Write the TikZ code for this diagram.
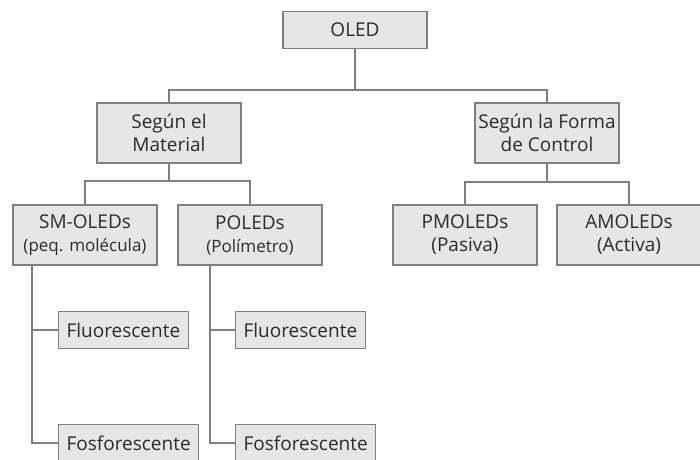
\documentclass[tikz,border=0pt]{standalone}
\usepackage{fontspec}
\setmainfont{Open Sans}
\definecolor{boxfill}{HTML}{E6E6E6}
\definecolor{boxline}{HTML}{7F7F7F}
\definecolor{txt}{HTML}{2B2B2B}
\begin{document}
\begin{tikzpicture}[x=1pt, y=-1pt,
	box/.style={draw=boxline, fill=boxfill, line width=1.2pt, text=txt,
		font=\fontsize{19}{23}\selectfont, align=center, inner sep=0pt},
	bigbox/.style={box, minimum width=144pt, minimum height=60pt},
	leaf/.style={box, minimum height=37pt, inner xsep=8pt},
	conn/.style={draw=boxline, line width=1.2pt}]
		\useasboundingbox (0,0) rectangle (700,459);

		\node[box, minimum width=144pt, minimum height=37pt] at (355, 30) (oled) {OLED};
		\node[bigbox] at (169, 133) (mat) {Según el\\Material};
		\node[bigbox] at (547, 133) (form) {Según la Forma\\de Control};

		\node[bigbox] at (85, 235) (sm) {SM-OLEDs\\{\fontsize{17}{20}\selectfont(peq. molécula)}};
		\node[bigbox] at (250, 235) (pol) {POLEDs\\{\fontsize{17}{20}\selectfont(Polímetro)}};
		\node[bigbox] at (465, 235) (pm) {PMOLEDs\\(Pasiva)};
		\node[bigbox] at (629, 235) (am) {AMOLEDs\\(Activa)};

		\node[leaf, anchor=west] at (58, 330) (fl1) {Fluorescente};
		\node[leaf, anchor=west] at (58, 443) (fo1) {Fosforescente};
		\node[leaf, anchor=west] at (235, 330) (fl2) {Fluorescente};
		\node[leaf, anchor=west] at (235, 443) (fo2) {Fosforescente};

		\coordinate (j1) at (355, 90);
		\coordinate (j2) at (169, 181);
		\coordinate (j3) at (547, 182);
		\coordinate (s1) at (32, 265);
		\coordinate (s2) at (210, 265);

		\path[conn] (oled.south) -- (j1);
		\path[conn] (mat.north) |- (j1) -| (form.north);
		\path[conn] (mat.south) -- (j2);
		\path[conn] (sm.north) |- (j2) -| (pol.north);
		\path[conn] (form.south) -- (j3);
		\path[conn] (pm.north) |- (j3) -| (am.north);
		\path[conn] (s1) |- (fl1.west);
		\path[conn] (s1) |- (fo1.west);
		\path[conn] (s2) |- (fl2.west);
		\path[conn] (s2) |- (fo2.west);
\end{tikzpicture}
\end{document}
